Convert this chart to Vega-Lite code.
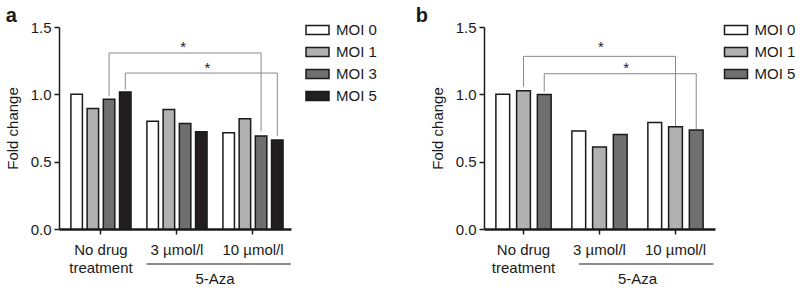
{
  "$schema": "https://vega.github.io/schema/vega-lite/v6.json",
  "background": "white",
  "padding": 5,
  "config": {
    "font": "Liberation Sans",
    "view": {"stroke": null},
    "axis": {"labelFont": "Liberation Sans", "titleFont": "Liberation Sans", "labelColor": "#1a1a1a", "titleColor": "#1a1a1a"},
    "legend": {"labelFont": "Liberation Sans"}
  },
  "datasets": {
    "barsA": [
      {"treatment": "No drug treatment", "moi": "MOI 0", "fold": 1.0},
      {"treatment": "No drug treatment", "moi": "MOI 1", "fold": 0.895},
      {"treatment": "No drug treatment", "moi": "MOI 3", "fold": 0.963},
      {"treatment": "No drug treatment", "moi": "MOI 5", "fold": 1.017},
      {"treatment": "3 µmol/l", "moi": "MOI 0", "fold": 0.80},
      {"treatment": "3 µmol/l", "moi": "MOI 1", "fold": 0.888},
      {"treatment": "3 µmol/l", "moi": "MOI 3", "fold": 0.784},
      {"treatment": "3 µmol/l", "moi": "MOI 5", "fold": 0.722},
      {"treatment": "10 µmol/l", "moi": "MOI 0", "fold": 0.715},
      {"treatment": "10 µmol/l", "moi": "MOI 1", "fold": 0.819},
      {"treatment": "10 µmol/l", "moi": "MOI 3", "fold": 0.69},
      {"treatment": "10 µmol/l", "moi": "MOI 5", "fold": 0.66}
    ],
    "barsB": [
      {"treatment": "No drug treatment", "moi": "MOI 0", "fold": 1.0},
      {"treatment": "No drug treatment", "moi": "MOI 1", "fold": 1.027},
      {"treatment": "No drug treatment", "moi": "MOI 5", "fold": 0.998},
      {"treatment": "3 µmol/l", "moi": "MOI 0", "fold": 0.727},
      {"treatment": "3 µmol/l", "moi": "MOI 1", "fold": 0.608},
      {"treatment": "3 µmol/l", "moi": "MOI 5", "fold": 0.702},
      {"treatment": "10 µmol/l", "moi": "MOI 0", "fold": 0.79},
      {"treatment": "10 µmol/l", "moi": "MOI 1", "fold": 0.76},
      {"treatment": "10 µmol/l", "moi": "MOI 5", "fold": 0.735}
    ],
    "bracketsA": [
      {"bracket": 1, "step": 1, "treatment": "No drug treatment", "moi": "MOI 3", "fold": 0.985},
      {"bracket": 1, "step": 2, "treatment": "No drug treatment", "moi": "MOI 3", "fold": 1.307},
      {"bracket": 1, "step": 3, "treatment": "10 µmol/l", "moi": "MOI 3", "fold": 1.307},
      {"bracket": 1, "step": 4, "treatment": "10 µmol/l", "moi": "MOI 3", "fold": 0.725},
      {"bracket": 2, "step": 1, "treatment": "No drug treatment", "moi": "MOI 5", "fold": 1.034},
      {"bracket": 2, "step": 2, "treatment": "No drug treatment", "moi": "MOI 5", "fold": 1.158},
      {"bracket": 2, "step": 3, "treatment": "10 µmol/l", "moi": "MOI 5", "fold": 1.158},
      {"bracket": 2, "step": 4, "treatment": "10 µmol/l", "moi": "MOI 5", "fold": 0.688}
    ],
    "bracketsB": [
      {"bracket": 1, "step": 1, "treatment": "No drug treatment", "moi": "MOI 1", "fold": 1.056},
      {"bracket": 1, "step": 2, "treatment": "No drug treatment", "moi": "MOI 1", "fold": 1.282},
      {"bracket": 1, "step": 3, "treatment": "10 µmol/l", "moi": "MOI 1", "fold": 1.282},
      {"bracket": 1, "step": 4, "treatment": "10 µmol/l", "moi": "MOI 1", "fold": 0.765},
      {"bracket": 2, "step": 1, "treatment": "No drug treatment", "moi": "MOI 5", "fold": 1.02},
      {"bracket": 2, "step": 2, "treatment": "No drug treatment", "moi": "MOI 5", "fold": 1.153},
      {"bracket": 2, "step": 3, "treatment": "10 µmol/l", "moi": "MOI 5", "fold": 1.153},
      {"bracket": 2, "step": 4, "treatment": "10 µmol/l", "moi": "MOI 5", "fold": 0.74}
    ],
    "note": [{"label": "5-Aza", "star": "*"}]
  },
  "spacing": 38,
  "resolve": {"scale": {"x": "independent", "xOffset": "independent", "fill": "independent", "y": "independent"}, "legend": {"fill": "independent"}, "axis": {"x": "independent", "y": "independent"}},
  "hconcat": [
    {
      "width": 232,
      "height": 202,
      "title": {"text": "a", "anchor": "start", "frame": "bounds", "fontSize": 20, "fontWeight": "bold", "color": "#1a1a1a", "offset": -8},
      "layer": [
        {
          "data": {"name": "barsA"},
          "mark": {"type": "bar", "stroke": "#1a1a1a", "strokeWidth": 1.5},
          "encoding": {
            "x": {"field": "treatment", "type": "nominal",
              "scale": {"domain": ["No drug treatment", "3 µmol/l", "10 µmol/l"], "paddingInner": 0, "paddingOuter": 0.026, "align": 1},
              "axis": {"title": null, "labelAngle": 0, "labelFontSize": 15, "labelLineHeight": 18.5, "labelPadding": 8, "tickSize": 5, "tickColor": "#1a1a1a", "tickWidth": 1.5, "domainColor": "#1a1a1a", "domainWidth": 2.5,
                "labelExpr": "datum.value == 'No drug treatment' ? ['No drug', 'treatment'] : datum.value"}},
            "xOffset": {"field": "moi", "type": "nominal", "scale": {"domain": ["MOI 0", "MOI 1", "MOI 3", "MOI 5"], "paddingInner": 0.29, "paddingOuter": 0.49}},
            "y": {"field": "fold", "type": "quantitative",
              "scale": {"domain": [0, 1.5], "nice": false},
              "axis": {"title": "Fold change", "titleFontSize": 15, "titleFontWeight": "normal", "titlePadding": 9.5, "values": [0, 0.5, 1, 1.5], "format": ".1f", "labelFontSize": 15, "labelPadding": 3, "tickSize": 5, "tickColor": "#1a1a1a", "tickWidth": 1.5, "domainColor": "#1a1a1a", "domainWidth": 1.5, "grid": false}},
            "fill": {"field": "moi", "type": "nominal",
              "scale": {"domain": ["MOI 0", "MOI 1", "MOI 3", "MOI 5"], "range": ["#ffffff", "#b1b1b1", "#6f6f6f", "#221e1f"]},
              "legend": {"title": null, "orient": "none", "legendX": 246, "legendY": -9.5, "labelFontSize": 15, "labelColor": "#1a1a1a", "labelOffset": 6, "rowPadding": 1,
                "symbolType": "M-1,-0.4H1V0.4H-1Z", "symbolSize": 529, "symbolStrokeColor": "#1a1a1a", "symbolStrokeWidth": 1.5, "symbolOpacity": 1}}
          }
        },
        {
          "data": {"name": "bracketsA"},
          "mark": {"type": "line", "color": "#8a8a8a", "strokeWidth": 1},
          "encoding": {
            "x": {"field": "treatment", "type": "nominal"},
            "xOffset": {"field": "moi", "type": "nominal"},
            "y": {"field": "fold", "type": "quantitative"},
            "detail": {"field": "bracket"},
            "order": {"field": "step"}
          }
        },
        {
          "data": {"name": "note"},
          "mark": {"type": "text", "fontSize": 15, "color": "#1a1a1a", "baseline": "middle"},
          "encoding": {
            "text": {"field": "star"},
            "x": {"datum": "3 µmol/l", "bandPosition": 0.58},
            "y": {"datum": 1.35}
          }
        },
        {
          "data": {"name": "note"},
          "mark": {"type": "text", "fontSize": 15, "color": "#1a1a1a", "baseline": "middle"},
          "encoding": {
            "text": {"field": "star"},
            "x": {"datum": "3 µmol/l", "bandPosition": 0.9},
            "y": {"datum": 1.195}
          }
        },
        {
          "data": {"name": "note"},
          "mark": {"type": "rule", "color": "#1a1a1a", "strokeWidth": 1.2},
          "encoding": {
            "x": {"datum": "3 µmol/l", "bandPosition": 0.1},
            "x2": {"datum": "10 µmol/l", "bandPosition": 1},
            "y": {"datum": -0.26}
          }
        },
        {
          "data": {"name": "note"},
          "mark": {"type": "text", "fontSize": 15, "color": "#1a1a1a", "baseline": "middle", "align": "center"},
          "encoding": {
            "text": {"field": "label"},
            "x": {"datum": "10 µmol/l", "bandPosition": 0},
            "y": {"datum": -0.37}
          }
        }
      ]
    },
    {
      "width": 231,
      "height": 202,
      "title": {"text": "b", "anchor": "start", "frame": "bounds", "fontSize": 20, "fontWeight": "bold", "color": "#1a1a1a", "dx": -15, "offset": -8},
      "layer": [
        {
          "data": {"name": "barsB"},
          "mark": {"type": "bar", "stroke": "#1a1a1a", "strokeWidth": 1.5},
          "encoding": {
            "x": {"field": "treatment", "type": "nominal",
              "scale": {"domain": ["No drug treatment", "3 µmol/l", "10 µmol/l"], "paddingInner": 0, "paddingOuter": 0.02},
              "axis": {"title": null, "labelAngle": 0, "labelFontSize": 15, "labelLineHeight": 18.5, "labelPadding": 8, "tickSize": 5, "tickColor": "#1a1a1a", "tickWidth": 1.5, "domainColor": "#1a1a1a", "domainWidth": 2.5,
                "labelExpr": "datum.value == 'No drug treatment' ? ['No drug', 'treatment'] : datum.value"}},
            "xOffset": {"field": "moi", "type": "nominal", "scale": {"domain": ["MOI 0", "MOI 1", "MOI 5"], "paddingInner": 0.335, "paddingOuter": 0.5}},
            "y": {"field": "fold", "type": "quantitative",
              "scale": {"domain": [0, 1.5], "nice": false},
              "axis": {"title": "Fold change", "titleFontSize": 15, "titleFontWeight": "normal", "titlePadding": 9.5, "values": [0, 0.5, 1, 1.5], "format": ".1f", "labelFontSize": 15, "labelPadding": 3, "tickSize": 5, "tickColor": "#1a1a1a", "tickWidth": 1.5, "domainColor": "#1a1a1a", "domainWidth": 1.5, "grid": false}},
            "fill": {"field": "moi", "type": "nominal",
              "scale": {"domain": ["MOI 0", "MOI 1", "MOI 5"], "range": ["#ffffff", "#b1b1b1", "#6f6f6f"]},
              "legend": {"title": null, "orient": "none", "legendX": 239.5, "legendY": -9.5, "labelFontSize": 15, "labelColor": "#1a1a1a", "labelOffset": 6, "rowPadding": 1,
                "symbolType": "M-1,-0.4H1V0.4H-1Z", "symbolSize": 529, "symbolStrokeColor": "#1a1a1a", "symbolStrokeWidth": 1.5, "symbolOpacity": 1}}
          }
        },
        {
          "data": {"name": "bracketsB"},
          "mark": {"type": "line", "color": "#8a8a8a", "strokeWidth": 1},
          "encoding": {
            "x": {"field": "treatment", "type": "nominal"},
            "xOffset": {"field": "moi", "type": "nominal"},
            "y": {"field": "fold", "type": "quantitative"},
            "detail": {"field": "bracket"},
            "order": {"field": "step"}
          }
        },
        {
          "data": {"name": "note"},
          "mark": {"type": "text", "fontSize": 15, "color": "#1a1a1a", "baseline": "middle"},
          "encoding": {
            "text": {"field": "star"},
            "x": {"datum": "3 µmol/l", "bandPosition": 0.52},
            "y": {"datum": 1.35}
          }
        },
        {
          "data": {"name": "note"},
          "mark": {"type": "text", "fontSize": 15, "color": "#1a1a1a", "baseline": "middle"},
          "encoding": {
            "text": {"field": "star"},
            "x": {"datum": "3 µmol/l", "bandPosition": 0.85},
            "y": {"datum": 1.195}
          }
        },
        {
          "data": {"name": "note"},
          "mark": {"type": "rule", "color": "#1a1a1a", "strokeWidth": 1.2},
          "encoding": {
            "x": {"datum": "3 µmol/l", "bandPosition": 0.23},
            "x2": {"datum": "10 µmol/l", "bandPosition": 1},
            "y": {"datum": -0.26}
          }
        },
        {
          "data": {"name": "note"},
          "mark": {"type": "text", "fontSize": 15, "color": "#1a1a1a", "baseline": "middle", "align": "center"},
          "encoding": {
            "text": {"field": "label"},
            "x": {"datum": "10 µmol/l", "bandPosition": 0},
            "y": {"datum": -0.37}
          }
        }
      ]
    }
  ]
}
